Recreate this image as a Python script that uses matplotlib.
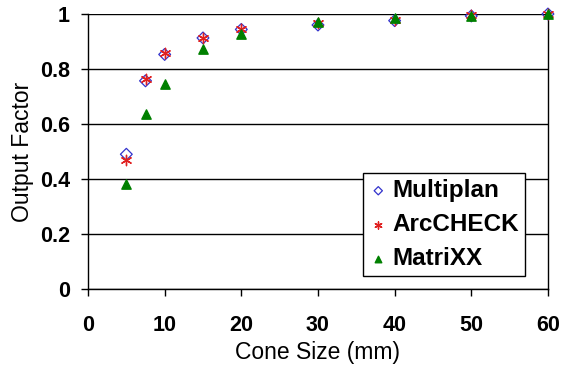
import matplotlib
matplotlib.use('Agg')
import matplotlib.pyplot as plt

# Datos
cone_size = [5, 7.5, 10, 15, 20, 30, 40, 50, 60]
multiplan = [0.49, 0.757, 0.853, 0.913, 0.944, 0.960, 0.976, 0.993, 1.0]
arccheck = [0.469, 0.764, 0.858, 0.914, 0.946, 0.966, 0.980, 0.995, 1.0]
matrixx = [0.381, 0.635, 0.744, 0.873, 0.927, 0.972, 0.985, 0.994, 1.0]

x_ticks = [0, 10, 20, 30, 40, 50, 60]
y_ticks = [0, 0.2, 0.4, 0.6, 0.8, 1.0]
y_labels = ['0', '0.2', '0.4', '0.6', '0.8', '1']

plt.rcParams['font.family'] = ['Liberation Sans', 'DejaVu Sans']

fig = plt.figure(figsize=(5.62, 3.66), dpi=100)
ax = fig.add_axes([0.1566, 0.2104, 0.8184, 0.7513])

ax.scatter(cone_size, multiplan, marker='D', s=36, facecolors='none',
           edgecolors='#3333cc', linewidths=0.9, label='Multiplan', zorder=3,
           clip_on=False)
ax.scatter(cone_size, arccheck, marker=(6, 2, 0), s=55, color='#e02020',
           linewidths=1.0, label='ArcCHECK', zorder=4, clip_on=False)
ax.scatter(cone_size, matrixx, marker='^', s=45, color='#008000',
           label='MatriXX', zorder=5, clip_on=False)

ax.set_xlim(0, 60)
ax.set_ylim(0, 1)
ax.set_xticks(x_ticks)
ax.set_yticks(y_ticks)
ax.set_yticklabels(y_labels)
ax.yaxis.grid(True, color='black', linewidth=1.0)
ax.set_axisbelow(True)

for s in ax.spines.values():
    s.set_linewidth(1.0)
ax.spines['top'].set_visible(False)

ax.tick_params(axis='both', direction='out', length=5, width=1.0, labelsize=15.5)
ax.tick_params(axis='x', pad=14)
ax.tick_params(axis='y', pad=8)
for lab in ax.get_xticklabels() + ax.get_yticklabels():
    lab.set_fontweight('bold')

ax.set_xlabel('Cone Size (mm)', fontsize=16.5)
ax.set_ylabel('Output Factor', fontsize=16.5)
ax.xaxis.set_label_coords(0.5, -0.188)
ax.yaxis.set_label_coords(-0.118, 0.5)

leg = ax.legend(loc='lower right', bbox_to_anchor=(0.95, 0.047),
                prop={'weight': 'bold', 'size': 17.5}, frameon=True, fancybox=False,
                edgecolor='black', framealpha=1, handletextpad=0.2,
                borderpad=0.25, labelspacing=0.45, handlelength=0.75,
                markerscale=0.7, borderaxespad=0)
leg.get_frame().set_linewidth(1.0)

plt.savefig('out.png', dpi=100)
plt.close()
